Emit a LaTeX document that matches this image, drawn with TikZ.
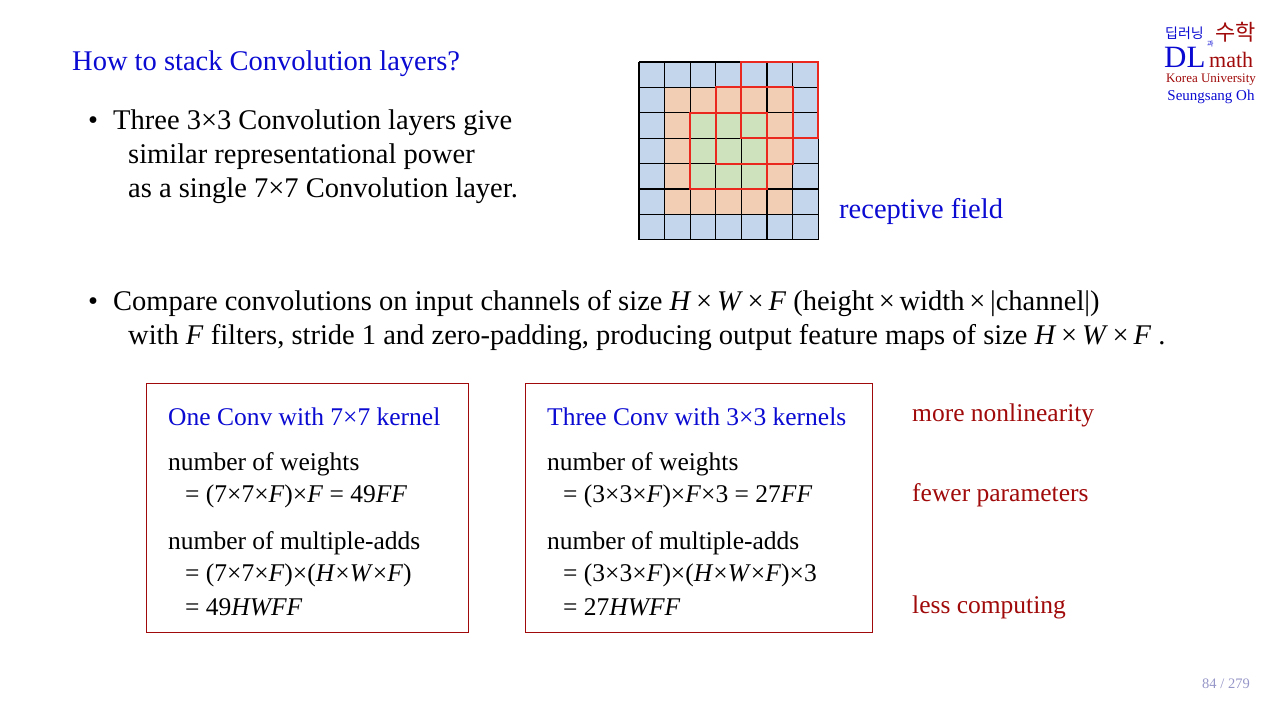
\documentclass[tikz,border=0pt]{standalone}
\usepackage{fontspec}
\setmainfont{Liberation Serif}
\newfontfamily\cjk{Noto Sans CJK KR}
\begin{document}
\definecolor{tblue}{RGB}{10,10,210}
\definecolor{dred}{RGB}{160,10,10}
\definecolor{cblue}{RGB}{196,214,236}
\definecolor{corange}{RGB}{242,207,180}
\definecolor{cgreen}{RGB}{206,226,190}
\definecolor{rline}{RGB}{235,40,30}
\begin{tikzpicture}[x=1pt,y=-1pt,
  txt/.style={anchor=west,inner sep=0pt,yshift=-3pt,font=\fontsize{28.5}{33}\selectfont},
  btxt/.style={anchor=west,inner sep=0pt,yshift=-2.5pt,font=\fontsize{25.5}{30}\selectfont},
  box/.style={draw=dred,line width=1pt},
  cell/.style={draw=black,line width=1.2pt},
  rbox/.style={draw=rline,line width=2pt}]
\useasboundingbox (0,0) rectangle (1280,715);
\def\cw{25.6}\def\ch{25.4}
% grid
\foreach \i in {0,...,6}{\foreach \j in {0,...,6}{
  \pgfmathsetmacro\c{(\i>=2 && \i<=4 && \j>=2 && \j<=4) ? 2 : ((\i>=1 && \i<=5 && \j>=1 && \j<=5) ? 1 : 0)}
  \ifnum\c=2 \def\col{cgreen}\else\ifnum\c=1 \def\col{corange}\else\def\col{cblue}\fi\fi
  \fill[\col] (639+\i*\cw,62+\j*\ch) rectangle ++(\cw,\ch);
}}
\foreach \i in {0,...,7}{\draw[cell] (639+\i*\cw,62) -- (639+\i*\cw,62+7*\ch);
  \draw[cell] (639,62+\i*\ch) -- (639+7*\cw,62+\i*\ch);}
\draw[rbox] (639+4*\cw,62) rectangle (639+7*\cw,62+3*\ch);
\draw[rbox] (639+3*\cw,62+1*\ch) rectangle (639+6*\cw,62+4*\ch);
\draw[rbox] (639+2*\cw,62+2*\ch) rectangle (639+5*\cw,62+5*\ch);
\node[txt,text=tblue] (rf) at (839,208) {receptive field};
% title
\node[txt,text=tblue] (title) at (72,61) {How to stack Convolution layers?};
\node[txt] (b1) at (88,120) {\textbullet};
\node[txt] (l1) at (113,120) {Three 3\texttimes3 Convolution layers give};
\node[txt] (l2) at (128,154) {similar representational power};
\node[txt] (l3) at (128,188) {as a single 7\texttimes7 Convolution layer.};
\node[txt] (b2) at (88,301) {\textbullet};
\node[txt] (l4) at (113,301) {Compare convolutions on input channels of size \textit{H}\,\texttimes\,\textit{W}\,\texttimes\,\textit{F} (height\,\texttimes\,width\,\texttimes\,|channel|)};
\node[txt] (l5) at (128,335) {with \textit{F} filters, stride 1 and zero-padding, producing output feature maps of size \textit{H}\,\texttimes\,\textit{W}\,\texttimes\,\textit{F} .};
% boxes
\draw[box] (146,383) rectangle (468,632);
\draw[box] (525,383) rectangle (872,632);
\node[btxt,text=tblue] (a1) at (168,414) {One Conv with 7\texttimes7 kernel};
\node[btxt] (a2) at (168,462) {number of weights};
\node[btxt] (a3) at (185,494) {= (7\texttimes7\texttimes\textit{F})\texttimes\textit{F} = 49\textit{FF}};
\node[btxt] (a4) at (168,541) {number of multiple-adds};
\node[btxt] (a5) at (185,573) {= (7\texttimes7\texttimes\textit{F})\texttimes(\textit{H}\texttimes\textit{W}\texttimes\textit{F})};
\node[btxt] (a6) at (185,605) {= 49\textit{HWFF}};
\node[btxt,text=tblue] (c1) at (547,414) {Three Conv with 3\texttimes3 kernels};
\node[btxt] (c2) at (547,462) {number of weights};
\node[btxt] (c3) at (563,494) {= (3\texttimes3\texttimes\textit{F})\texttimes\textit{F}\texttimes3 = 27\textit{FF}};
\node[btxt] (c4) at (547,541) {number of multiple-adds};
\node[btxt] (c5) at (563,573) {= (3\texttimes3\texttimes\textit{F})\texttimes(\textit{H}\texttimes\textit{W}\texttimes\textit{F})\texttimes3};
\node[btxt] (c6) at (563,605) {= 27\textit{HWFF}};
\node[btxt,text=dred] (r1) at (912,413) {more nonlinearity};
\node[btxt,text=dred] (r2) at (912,493) {fewer parameters};
\node[btxt,text=dred] (r3) at (912,605) {less computing};
% logo
\node[anchor=west,inner sep=0pt,text=tblue,font=\cjk\fontsize{14}{14}\selectfont] (k1) at (1165,33) {딥러닝};
\node[anchor=west,inner sep=0pt,text=tblue,font=\cjk\fontsize{7}{7}\selectfont] (k2) at (1207,44) {과};
\node[anchor=west,inner sep=0pt,text=dred,font=\cjk\fontsize{22}{22}\selectfont] (k3) at (1215,32) {수학};
\node[anchor=west,inner sep=0pt,text=tblue,font=\fontsize{31}{31}\selectfont] (dl) at (1164,57) {DL};
\node[anchor=west,inner sep=0pt,text=dred,font=\fontsize{22}{22}\selectfont] (mt) at (1209,60) {math};
\node[inner sep=0pt,text=dred,font=\fontsize{13}{13}\selectfont] (ku) at (1211,80) {Korea University};
\node[inner sep=0pt,text=tblue,font=\fontsize{15}{15}\selectfont] (so) at (1211,97) {Seungsang Oh};
\node[inner sep=0pt,text={rgb,255:red,150;green,150;blue,200},font=\fontsize{14.5}{14.5}\selectfont] (pg) at (1226,684) {84 / 279};
\end{tikzpicture}
\end{document}
